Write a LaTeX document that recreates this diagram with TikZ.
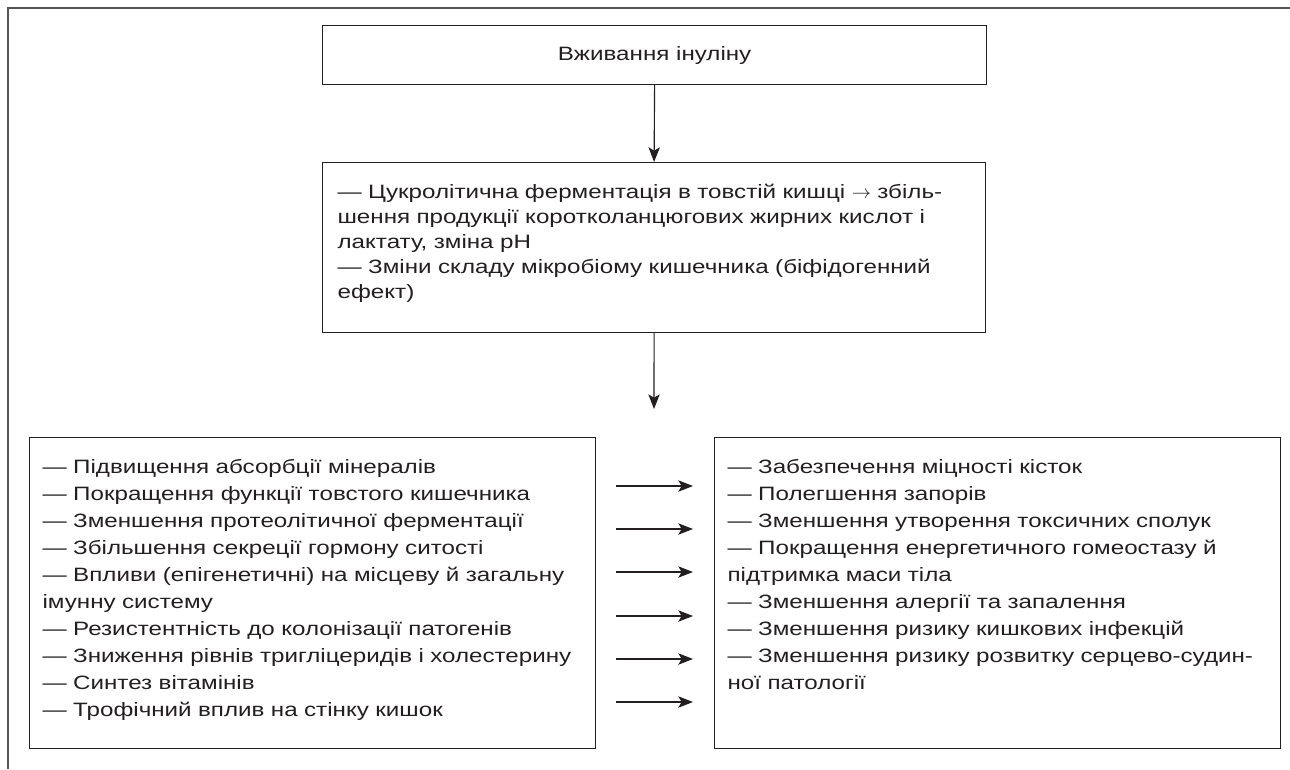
\documentclass[tikz,border=0pt]{standalone}
\usepackage{fontspec}
\setmainfont{Liberation Sans}[FakeStretch=1.25]
\usetikzlibrary{arrows.meta}
\definecolor{ink}{HTML}{231F20}
\definecolor{framegray}{HTML}{555555}
\hyphenpenalty=10000
\begin{document}
\begin{tikzpicture}[x=0.75pt,y=-0.75pt,
  txt/.style={text=ink, font=\fontsize{14.5}{20.25}\selectfont},
  box/.style={draw=ink, line width=0.9pt, inner ysep=0pt, anchor=north west, align=left, txt},
  arr/.style={draw=ink, line width=0.85pt, -{Stealth[length=11pt,width=8.5pt,inset=2.5pt]}}]
\useasboundingbox (0,0) rectangle (1290,769);
\draw[framegray, line width=1.5pt] (1290,8) -- (8,8) -- (8,769);

\node[draw=ink, line width=0.9pt, anchor=north west, minimum width=498pt, minimum height=44.25pt, txt] (top) at (322,25) {Вживання інуліну};

\node[box, inner xsep=11.25pt, text width=474.75pt, text height=27pt, text depth=100.5pt,
  font=\fontsize{14.5}{18.75}\selectfont] (mid) at (322,162)
  {— Цукролітична ферментація в товстій кишці $\rightarrow$ збіль-\\
   шення продукції коротколанцюгових жирних кислот і\\
   лактату, зміна pH\\
   — Зміни складу мікробіому кишечника (біфідогенний\\
   ефект)};

\node[box, inner xsep=9.75pt, text width=405pt, text height=27pt, text depth=206.25pt] (L) at (29,437)
  {— Підвищення абсорбції мінералів\\
   — Покращення функції товстого кишечника\\
   — Зменшення протеолітичної ферментації\\
   — Збільшення секреції гормону ситості\\
   — Впливи (епігенетичні) на місцеву й загальну\\
   імунну систему\\
   — Резистентність до колонізації патогенів\\
   — Зниження рівнів тригліцеридів і холестерину\\
   — Синтез вітамінів\\
   — Трофічний вплив на стінку кишок};

\node[box, inner xsep=9.75pt, text width=405pt, text height=27pt, text depth=206.25pt] (R) at (714,437)
  {— Забезпечення міцності кісток\\
   — Полегшення запорів\\
   — Зменшення утворення токсичних сполук\\
   — Покращення енергетичного гомеостазу й\\
   підтримка маси тіла\\
   — Зменшення алергії та запалення\\
   — Зменшення ризику кишкових інфекцій\\
   — Зменшення ризику розвитку серцево-судин-\\
   ної патології};

\draw[arr] (top.south) -- (mid.north);
\coordinate (down) at (654,409);
\draw[arr] (mid.south) -- (down);

\foreach \i/\y in {1/486,2/529,3/572,4/616,5/659,6/702}{
  \coordinate (a\i) at (616,\y);
  \coordinate (b\i) at (693,\y);
  \draw[arr] (a\i) -- (b\i);
}
\end{tikzpicture}
\end{document}
